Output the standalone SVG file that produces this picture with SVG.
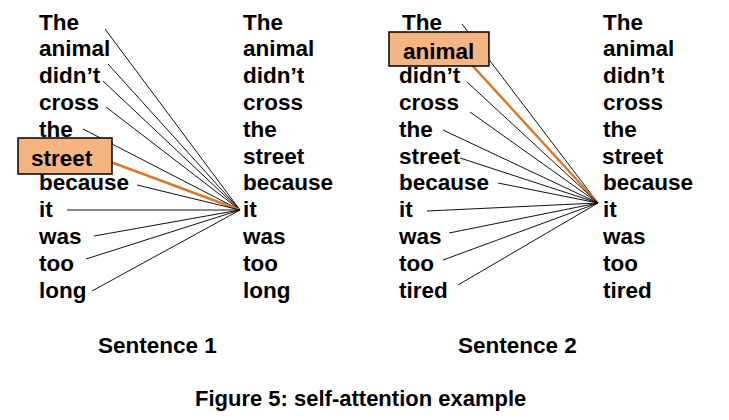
<svg xmlns="http://www.w3.org/2000/svg" width="729" height="420" viewBox="0 0 729 420">
<style>
text{font-family:"Liberation Sans",Arial,sans-serif;font-weight:bold;font-size:22.5px;fill:#000}
.cap{font-size:22px}
.l{stroke:#111;stroke-width:1;fill:none}
.o{stroke:#D9782A;stroke-width:2.5;fill:none}
.box{fill:#F5B582;stroke:#000;stroke-width:1.5}
</style>
<rect width="729" height="420" fill="#fff"/>
<g id="connectors">
<g id="s1-lines">
<line class="l" x1="105" y1="29" x2="240" y2="210"/>
<line class="l" x1="108" y1="64" x2="240" y2="210"/>
<line class="l" x1="103" y1="81" x2="240" y2="210"/>
<line class="l" x1="106" y1="107" x2="240" y2="210"/>
<line class="l" x1="83" y1="129" x2="240" y2="210"/>
<line class="o" x1="100" y1="158" x2="240" y2="210"/>
<line class="l" x1="137" y1="185" x2="240" y2="210"/>
<line class="l" x1="67" y1="210" x2="240" y2="210"/>
<line class="l" x1="94" y1="236" x2="240" y2="210"/>
<line class="l" x1="86" y1="259" x2="240" y2="210"/>
<line class="l" x1="92" y1="291" x2="240" y2="210"/>
</g>
<g id="s2-lines">
<line class="l" x1="462" y1="24" x2="598" y2="203"/>
<line class="o" x1="460" y1="52" x2="598" y2="203"/>
<line class="l" x1="467" y1="82" x2="598" y2="203"/>
<line class="l" x1="470" y1="112" x2="598" y2="203"/>
<line class="l" x1="443" y1="130" x2="598" y2="203"/>
<line class="l" x1="460" y1="158" x2="598" y2="203"/>
<line class="l" x1="498" y1="183" x2="598" y2="203"/>
<line class="l" x1="427" y1="211" x2="598" y2="203"/>
<line class="l" x1="449" y1="233" x2="598" y2="203"/>
<line class="l" x1="443" y1="260" x2="598" y2="203"/>
<line class="l" x1="458" y1="285" x2="598" y2="203"/>
</g>
</g>
<g id="s1-left">
<text x="39" y="29.5">The</text>
<text x="39" y="56.3">animal</text>
<text x="39" y="83.1">didn’t</text>
<text x="39" y="109.9">cross</text>
<text x="39" y="136.7">the</text>
<g id="s1-street"><rect class="box" x="18" y="138" width="94" height="36"/><text x="31" y="165.5">street</text></g>
<text x="39" y="190.3">because</text>
<text x="39" y="217.1">it</text>
<text x="39" y="243.9">was</text>
<text x="39" y="270.7">too</text>
<text x="39" y="297.5">long</text>
</g>
<g id="s1-right">
<text x="243" y="29.5">The</text>
<text x="243" y="56.3">animal</text>
<text x="243" y="83.1">didn’t</text>
<text x="243" y="109.9">cross</text>
<text x="243" y="136.7">the</text>
<text x="243" y="163.5">street</text>
<text x="243" y="190.3">because</text>
<text x="243" y="217.1">it</text>
<text x="243" y="243.9">was</text>
<text x="243" y="270.7">too</text>
<text x="243" y="297.5">long</text>
</g>
<g id="s2-left">
<text x="402" y="29.5">The</text>
<g id="s2-animal"><rect class="box" x="389" y="32" width="100" height="34"/><text x="403" y="58.5">animal</text></g>
<text x="399" y="83.1">didn’t</text>
<text x="399" y="109.9">cross</text>
<text x="399" y="136.7">the</text>
<text x="399" y="163.5">street</text>
<text x="399" y="190.3">because</text>
<text x="399" y="217.1">it</text>
<text x="399" y="243.9">was</text>
<text x="399" y="270.7">too</text>
<text x="399" y="297.5">tired</text>
</g>
<g id="s2-right">
<text x="603" y="29.5">The</text>
<text x="603" y="56.3">animal</text>
<text x="603" y="83.1">didn’t</text>
<text x="603" y="109.9">cross</text>
<text x="603" y="136.7">the</text>
<text x="602" y="163.5">street</text>
<text x="603" y="190.3">because</text>
<text x="603" y="217.1">it</text>
<text x="603" y="243.9">was</text>
<text x="603" y="270.7">too</text>
<text x="603" y="297.5">tired</text>
</g>
<g id="labels">
<text x="98" y="352.5">Sentence 1</text>
<text x="458" y="352.5">Sentence 2</text>
<text class="cap" x="195" y="405.5">Figure 5: self-attention example</text>
</g>
</svg>
